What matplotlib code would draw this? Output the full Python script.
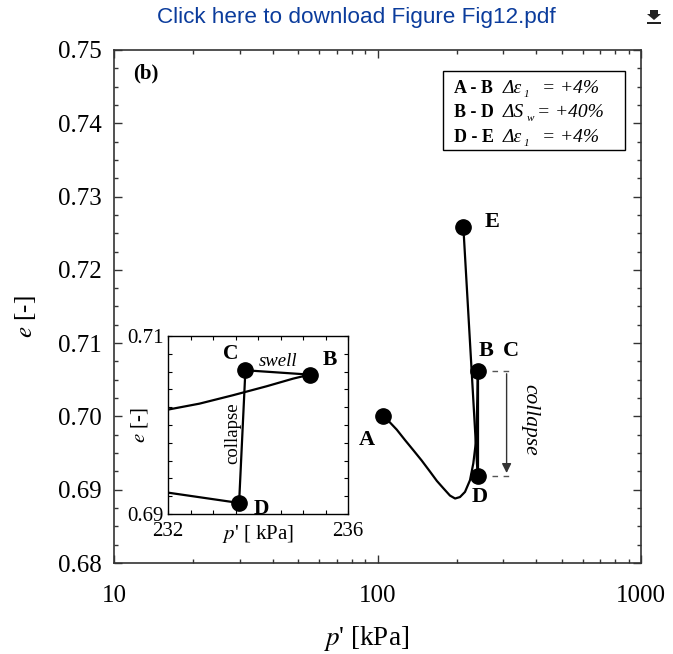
import numpy as np
import matplotlib
matplotlib.use('Agg')
import matplotlib.pyplot as plt
from matplotlib.ticker import MultipleLocator, LogLocator, NullFormatter, FixedLocator, FixedFormatter
from matplotlib.patches import Rectangle, Polygon

plt.rcParams['font.family'] = ['Liberation Serif', 'DejaVu Serif']
plt.rcParams['mathtext.fontset'] = 'stix'

# ---- main path data (p' in kPa, e in -)
curveP = [105.2, 110, 118.3, 127, 136.7, 147, 158, 168, 177.8, 188.4, 197, 205.6, 214.8,
          224.4, 231, 235.9, 238.0, 239.3, 240]
curveE = [0.7000, 0.6994, 0.6982, 0.6968, 0.6954, 0.6940, 0.6925, 0.6912, 0.6902, 0.6892,
          0.6888, 0.6890, 0.6897, 0.6913, 0.6936, 0.6963, 0.6991, 0.7027, 0.7062]
collapseP = [240, 240, 240]
collapseE = [0.7062, 0.7062, 0.6919]
loadP = [240, 211.7]
loadE = [0.6919, 0.7259]
pointNames = ['A', 'B', 'D', 'E']
pointP = [105.2, 240, 240, 211.7]
pointE = [0.7000, 0.7062, 0.6919, 0.7259]

# ---- inset data
insetCurveP = [232.0, 232.70, 233.44, 234.19, 234.78, 235.15]
insetCurveE = [0.70173, 0.70240, 0.70334, 0.70435, 0.70521, 0.70566]
insetPathP = [235.15, 233.72, 233.58]
insetPathE = [0.70566, 0.70615, 0.69124]
insetLoadP = [233.58, 232.0]
insetLoadE = [0.69124, 0.69240]
insetNames = ['B', 'C', 'D']
insetP = [235.15, 233.72, 233.58]
insetE = [0.70566, 0.70615, 0.69124]

legendKeys = ['A - B', 'B - D', 'D - E']
legendSym = ['\u0394\u03b5', '\u0394S', '\u0394\u03b5']
legendSub = ['1', 'w', '1']
legendVal = ['= +4%', '= +40%', '= +4%']

fig = plt.figure(figsize=(6.73, 6.54), dpi=100)
W, H = 673.0, 654.0
ax = fig.add_axes([114 / W, 1 - 563 / H, 527 / W, 513 / H])

# ---- header
fig.text(356 / W, 1 - 17 / H, 'Click here to download Figure Fig12.pdf', ha='center', va='center',
         fontsize=16.2, color='#0b3c9c', family=['Liberation Sans', 'DejaVu Sans'])
# download icon (arrow onto a bar)
iconPts = [(650, 10), (658, 10), (658, 14), (661, 14), (654, 20), (647, 14), (650, 14)]
fig.patches.append(Polygon([(x / W, 1 - y / H) for x, y in iconPts], closed=True,
                           transform=fig.transFigure, facecolor='#222222', edgecolor='none'))
fig.patches.append(Rectangle((647 / W, 1 - 24 / H), 14 / W, 2 / H, transform=fig.transFigure,
                             facecolor='#222222', edgecolor='none'))

# ---- main curves
ax.plot(curveP, curveE, color='black', lw=1.6)
ax.plot(collapseP, collapseE, color='black', lw=1.6)
ax.plot(loadP, loadE, color='black', lw=1.6)
ax.plot(pointP, pointE, 'o', color='black', ms=11, zorder=5)

# ---- collapse annotation
for yy in [pointE[1], pointE[2]]:
    ax.plot([272, 325], [yy, yy], ls=(0, (4, 4)), color='#555555', lw=1)
ax.annotate('', xy=(309, pointE[2]), xytext=(309, pointE[1]),
            arrowprops=dict(arrowstyle='-|>', color='#333333', lw=1, mutation_scale=14))
ax.text(379, 0.6995, 'collapse', rotation=-90, ha='center', va='center', fontsize=15.5, style='italic')

labelPos = {'A': (91.2, 0.6968), 'B': (258, 0.7089), 'C': (321, 0.7089),
            'D': (245, 0.6890), 'E': (272, 0.7265)}
for name, (px, py) in labelPos.items():
    ax.text(px, py, name, ha='center', va='center', fontsize=16, fontweight='bold')

ax.text(0.036, 0.955, '(b)', transform=ax.transAxes, ha='left', va='center', fontsize=15, fontweight='bold')

# ---- legend box
ax.add_patch(Rectangle((0.625, 0.806), 0.345, 0.154, transform=ax.transAxes,
                       facecolor='white', edgecolor='black', lw=1, zorder=6))
subX = [0.778, 0.783, 0.778]
valX = [0.812, 0.803, 0.812]
for i in range(3):
    yy = 0.925 - i * 0.0475
    ax.text(0.645, yy, legendKeys[i], transform=ax.transAxes, ha='left', va='center', fontsize=13,
            fontweight='bold', zorder=7)
    ax.text(0.7377, yy, legendSym[i], transform=ax.transAxes, ha='left', va='center', fontsize=14,
            style='italic', zorder=7)
    ax.text(subX[i], yy - 0.012, legendSub[i], transform=ax.transAxes, ha='left', va='center',
            fontsize=8, style='italic', zorder=7)
    ax.text(valX[i], yy, legendVal[i], transform=ax.transAxes, ha='left', va='center', fontsize=14,
            style='italic', zorder=7)

# ---- main axes styling
ax.set_xscale('log')
ax.set_xlim(10, 1000)
ax.set_ylim(0.68, 0.75)
ax.yaxis.set_major_locator(MultipleLocator(0.01))
ax.yaxis.set_minor_locator(MultipleLocator(0.0025))
ax.yaxis.set_major_formatter(plt.FormatStrFormatter('%.2f'))
ax.xaxis.set_major_locator(LogLocator(base=10))
ax.xaxis.set_minor_locator(LogLocator(base=10, subs=np.arange(2, 10)))
ax.xaxis.set_minor_formatter(NullFormatter())
ax.xaxis.set_major_formatter(plt.FuncFormatter(lambda v, _: '%d' % v))
ax.tick_params(which='both', direction='in', top=True, right=True, color='#333333')
ax.tick_params(which='major', length=6, width=1, labelsize=18)
ax.tick_params(which='minor', length=3, width=1)
ax.tick_params(axis='x', which='major', pad=16)
ax.tick_params(axis='y', which='major', pad=9)
for s in ax.spines.values():
    s.set_color('#333333')
    s.set_linewidth(1.2)
ax.set_xlabel(r"$p$' [kPa]", fontsize=19.5, labelpad=12)
ax.xaxis.label.set_x(0.478)
ax.set_ylabel(r'$e$ [-]', fontsize=18, labelpad=14)
ax.yaxis.label.set_y(0.48)

# ---- inset
axi = fig.add_axes([168 / W, 1 - 514 / H, 180 / W, 178 / H], zorder=10)
axi.plot(insetCurveP, insetCurveE, color='black', lw=1.6)
axi.plot(insetPathP, insetPathE, color='black', lw=1.6)
axi.plot(insetLoadP, insetLoadE, color='black', lw=1.6)
axi.plot(insetP, insetE, 'o', color='black', ms=11, zorder=5, clip_on=False)
axi.set_xlim(232, 236)
axi.set_ylim(0.69, 0.71)
xt = np.arange(232, 236.01, 0.5)
yt = np.arange(0.69, 0.71001, 0.002)
axi.xaxis.set_major_locator(FixedLocator(xt))
axi.xaxis.set_major_formatter(FixedFormatter(['232'] + [''] * (len(xt) - 2) + ['236']))
axi.yaxis.set_major_locator(FixedLocator(yt))
axi.yaxis.set_major_formatter(FixedFormatter(['0.69'] + [''] * (len(yt) - 2) + ['0.71']))
axi.tick_params(which='both', direction='in', top=True, right=True, length=3, width=0.8,
                labelsize=15, pad=3)
axi.tick_params(axis='x', pad=6)
for s in axi.spines.values():
    s.set_linewidth(1)
axi.set_xlabel(r"$p$' [ kPa]", fontsize=15)
axi.xaxis.set_label_coords(0.5, -0.05)
axi.set_ylabel(r'$e$ [-]', fontsize=15)
axi.yaxis.set_label_coords(-0.10, 0.5)

insetLabelPos = {'C': (233.39, 0.70802), 'B': (235.59, 0.70727), 'D': (234.07, 0.69061)}
for name, (px, py) in insetLabelPos.items():
    axi.text(px, py, name, ha='center', va='center', fontsize=15.5, fontweight='bold')
axi.text(234.44, 0.70708, 'swell', ha='center', va='center', fontsize=13.5, style='italic')
axi.text(233.44, 0.69903, 'collapse', rotation=90, ha='center', va='center', fontsize=13.5)

fig.savefig('out.png', dpi=100)
